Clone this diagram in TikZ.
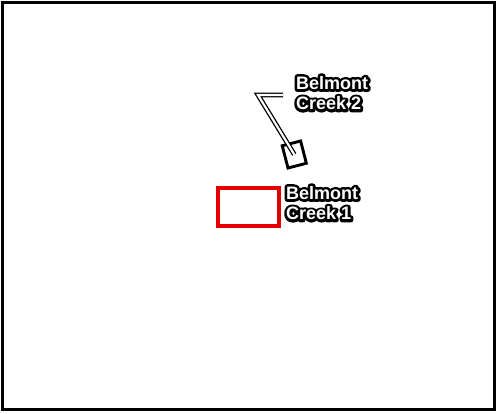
\documentclass[tikz,border=0pt]{standalone}
\usepackage{fontspec}
\setmainfont{Liberation Sans}
% black stroked copy under the white text
\newcommand\halo[1]{\rlap{\special{pdf:literal direct 1 Tr 5.4 w 1 j 0 G}#1\special{pdf:literal direct 0 Tr}}#1}
\begin{document}
\begin{tikzpicture}[x=1pt, y=-1pt, font=\bfseries\fontsize{18}{20.5}\selectfont,
  sitetext/.style={text=white, align=left, inner sep=0pt, anchor=north west},
  leader/.style={draw=black, line width=1.3pt, double=white, double distance=2.2pt}]
  \useasboundingbox (0,0) rectangle (498,413);
  \draw[line width=3pt] (2,2) rectangle (494,409);
  \node[draw, line width=2.9pt, rotate=14.5, minimum width=19pt, minimum height=23pt, inner sep=0pt] (boxtwo) at (294.3,154.5) {};
  \node[draw=red!90!black, line width=3.1pt, minimum width=61pt, minimum height=38pt, inner sep=0pt] (boxone) at (248.5,207) {};
  \node[sitetext] (creektwo) at (296,76) {\halo{Belmont}\\\halo{Creek 2}};
  \node[sitetext] (creekone) at (286,186) {\halo{Belmont}\\\halo{Creek 1}};
  \coordinate (tick) at (283,95);
  \coordinate (bend) at (258,95);
  \draw[leader] (tick) -- (bend) -- (boxtwo.center);
\end{tikzpicture}
\end{document}
